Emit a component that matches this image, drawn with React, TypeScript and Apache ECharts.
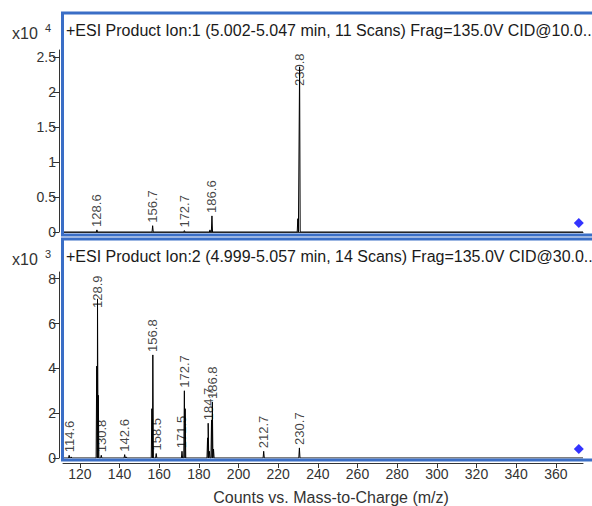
import React, { useEffect, useRef } from "react";
import * as echarts from "echarts";

// ---------- data ----------
const X_MIN = 111.5;
const X_MAX = 373.7;
const X_TICKS = [120, 140, 160, 180, 200, 220, 240, 260, 280, 300, 320, 340, 360];

const TOP_Y_TICKS = [0, 0.5, 1, 1.5, 2, 2.5];
const TOP_Y_MAX = 2.6;
const BOT_Y_TICKS = [0, 2, 4, 6, 8];
const BOT_Y_MAX = 8.3;

const TITLES = [
  "+ESI Product Ion:1 (5.002-5.047 min, 11 Scans) Frag=135.0V CID@10.0..",
  "+ESI Product Ion:2 (4.999-5.057 min, 14 Scans) Frag=135.0V CID@30.0..",
];
const EXPONENTS = ["4", "3"];
const X_NAME = "Counts vs. Mass-to-Charge (m/z)";

// Panel 1 (x10^4 counts)
const topMz = [128.6, 156.7, 172.7, 185.6, 186.6, 229.9, 230.8];
const topInt = [0.03, 0.09, 0.02, 0.03, 0.23, 0.19, 2.36];
const topLabelled = [true, true, true, false, true, false, true];

// Panel 2 (x10^3 counts)
const botMz = [114.6, 115.6, 128.5, 128.9, 129.3, 130.8, 142.6, 143.4, 156.3, 156.8, 158.5, 171.5, 172.7, 173.1, 184.4, 184.7, 185.3, 186.4, 186.8, 187.4, 212.7, 230.7];
const botInt = [0.12, 0.05, 4.1, 7.1, 2.8, 0.12, 0.15, 0.05, 2.2, 4.6, 0.2, 0.3, 3.0, 2.2, 0.9, 1.55, 0.3, 1.7, 2.5, 0.4, 0.3, 0.45];
const botLabelled = [true, false, false, true, false, true, true, false, false, true, true, true, true, false, false, true, false, false, true, false, true, true];

// Precursor markers
const precursorMz = 371.6;
const precursorTop = 0.13;
const precursorBot = 0.4;

// ---------- layout ----------
const W = 592;
const H = 506;
const FONT = "'Liberation Sans', Arial, sans-serif";
const BLUE = "#3a6ec6";
const AXIS = "#333333";
const GRIDS = [
  { left: 63, top: 50, width: 520, height: 182, yMax: TOP_Y_MAX },
  { left: 63, top: 272, width: 520, height: 186, yMax: BOT_Y_MAX },
];
const PEAK_HALF_WIDTH = 0.3;

function spectrumData(mz: number[], inten: number[]) {
  const idx = mz.map((_, i) => i).sort((a, b) => mz[a] - mz[b]);
  const pts: number[][] = [[X_MIN, 0]];
  idx.forEach((i) => {
    pts.push([mz[i] - PEAK_HALF_WIDTH, 0]);
    pts.push([mz[i], inten[i]]);
    pts.push([mz[i] + PEAK_HALF_WIDTH, 0]);
  });
  pts.push([X_MAX, 0]);
  return pts;
}

function labelData(mz: number[], inten: number[], lab: boolean[], g: number) {
  const grid = GRIDS[g];
  const pxPerUnit = grid.height / grid.yMax;
  const out: any[] = [];
  mz.forEach((m, i) => {
    if (!lab[i]) return;
    const text = m.toFixed(1);
    const len = text.length * 6.6;
    const room = (grid.yMax - inten[i]) * pxPerUnit - len - 3;
    out.push({ value: [m, inten[i]], name: text, label: { distance: Math.min(3, room) } });
  });
  return out;
}

export default function App() {
  const ref = useRef<HTMLDivElement>(null);
  useEffect(() => {
    if (!ref.current) return;
    const chart = echarts.init(ref.current, undefined, { renderer: "svg", width: W, height: H });

    const xAxes = GRIDS.map((_, g) => ({
      type: "value",
      gridIndex: g,
      min: X_MIN,
      max: X_MAX,
      offset: g === 1 ? 5 : 0,
      axisLine: { show: true, onZero: false, lineStyle: { color: AXIS, width: 1 } },
      axisTick: g === 1
        ? { show: true, customValues: X_TICKS, length: 5, lineStyle: { color: AXIS } }
        : { show: false },
      axisLabel: g === 1
        ? { show: true, customValues: X_TICKS, fontSize: 14, color: AXIS, margin: 4, fontFamily: FONT }
        : { show: false },
      splitLine: { show: false },
    }));

    const yAxes = GRIDS.map((grid, g) => {
      const ticks = g === 0 ? TOP_Y_TICKS : BOT_Y_TICKS;
      return {
        type: "value",
        gridIndex: g,
        min: 0,
        max: grid.yMax,
        offset: 4,
        axisLine: { show: true, lineStyle: { color: AXIS, width: 1 } },
        axisTick: { show: true, customValues: ticks, length: 6, lineStyle: { color: AXIS } },
        axisLabel: { show: true, customValues: ticks, fontSize: 14, color: AXIS, margin: 3, fontFamily: FONT },
        splitLine: { show: false },
      };
    });

    const labelStyle = {
      show: true,
      position: "top",
      rotate: 90,
      align: "left",
      verticalAlign: "middle",
      fontSize: 13,
      fontFamily: FONT,
      color: "#111",
      formatter: (p: any) => p.name,
    };

    const series: any[] = [
      {
        type: "line",
        xAxisIndex: 0,
        yAxisIndex: 0,
        data: spectrumData(topMz, topInt),
        showSymbol: false,
        lineStyle: { color: "#000", width: 1 },
        silent: true,
      },
      {
        type: "line",
        xAxisIndex: 1,
        yAxisIndex: 1,
        data: spectrumData(botMz, botInt),
        showSymbol: false,
        lineStyle: { color: "#000", width: 1 },
        silent: true,
      },
      {
        type: "scatter",
        xAxisIndex: 0,
        yAxisIndex: 0,
        symbolSize: 0,
        data: labelData(topMz, topInt, topLabelled, 0),
        label: labelStyle,
      },
      {
        type: "scatter",
        xAxisIndex: 1,
        yAxisIndex: 1,
        symbolSize: 0,
        data: labelData(botMz, botInt, botLabelled, 1),
        label: labelStyle,
      },
      {
        type: "scatter",
        xAxisIndex: 0,
        yAxisIndex: 0,
        symbol: "diamond",
        symbolSize: 10,
        itemStyle: { color: "#0000ff" },
        data: [[precursorMz, precursorTop]],
      },
      {
        type: "scatter",
        xAxisIndex: 1,
        yAxisIndex: 1,
        symbol: "diamond",
        symbolSize: 10,
        itemStyle: { color: "#0000ff" },
        data: [[precursorMz, precursorBot]],
      },
    ];

    const boxes = [
      { y: 13, h: 222, titleY: 30, expY: 33 },
      { y: 239, h: 221, titleY: 256, expY: 259 },
    ];

    const graphic: any[] = [];
    boxes.forEach((b, i) => {
      graphic.push({
        type: "rect",
        z: 100,
        shape: { x: 62.5, y: b.y, width: 560, height: b.h },
        style: { fill: "none", stroke: BLUE, lineWidth: 3 },
        silent: true,
      });
      graphic.push({
        type: "text",
        z: 100,
        x: 66,
        y: b.titleY,
        style: { text: TITLES[i], fontSize: 16, fontFamily: FONT, fill: "#1a1a1a", verticalAlign: "middle", align: "left" },
      });
      graphic.push({
        type: "text",
        z: 100,
        x: 12,
        y: b.expY,
        style: { text: "x10", fontSize: 16, fontFamily: FONT, fill: AXIS, verticalAlign: "middle", align: "left" },
      });
      graphic.push({
        type: "text",
        z: 100,
        x: 45,
        y: b.expY - 5,
        style: { text: EXPONENTS[i], fontSize: 11, fontFamily: FONT, fill: AXIS, verticalAlign: "middle", align: "left" },
      });
    });
    graphic.push({
      type: "text",
      z: 100,
      x: 331,
      y: 497,
      style: { text: X_NAME, fontSize: 16, fontFamily: FONT, fill: AXIS, verticalAlign: "middle", align: "center" },
    });

    chart.setOption({
      animation: false,
      backgroundColor: "#ffffff",
      grid: GRIDS.map((g) => ({ left: g.left, top: g.top, width: g.width, height: g.height })),
      xAxis: xAxes,
      yAxis: yAxes,
      series,
      graphic,
    });
    return () => chart.dispose();
  }, []);

  return <div ref={ref} style={{ position: "fixed", left: 0, top: 0, width: W, height: H }} />;
}
